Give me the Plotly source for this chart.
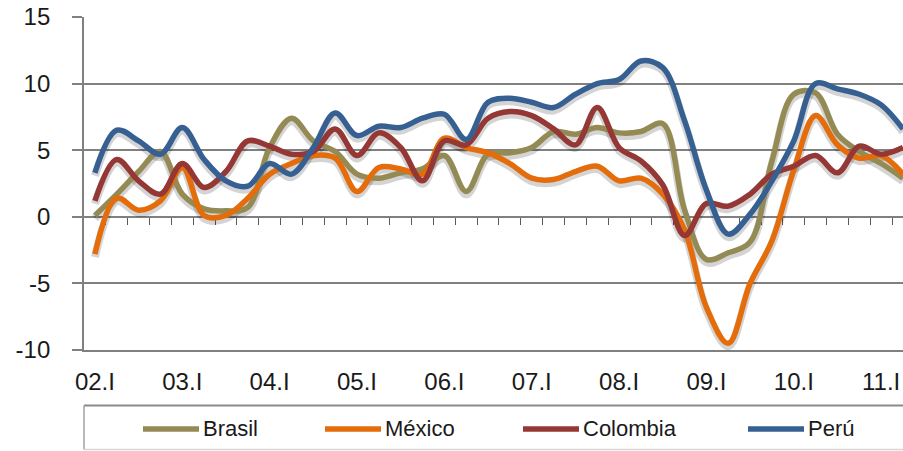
import plotly.graph_objects as go

# Quarterly series, 2002.I - 2011.II
quarters = [f"{y:02d}.{q}" for y in range(2, 12) for q in ("I", "II", "III", "IV")][:38]
tick_labels = ["02.I", "03.I", "04.I", "05.I", "06.I", "07.I", "08.I", "09.I", "10.I", "11.I"]

brasil = [0.1, 1.7, 3.4, 4.9, 1.7, 0.6, 0.45, 0.7, 5.2, 7.4, 5.7, 4.9, 3.2, 2.9, 3.3, 3.6,
          4.6, 1.9, 4.7, 4.8, 5.2, 6.4, 6.2, 6.7, 6.3, 6.4, 7.0, 0.5, -3.2, -2.7, -1.9, 4.2,
          9.2, 9.3, 6.2, 4.9, 4.0, 2.9]
mexico = [-2.8, 1.4, 0.5, 1.2, 3.7, 0.1, 0.1, 1.4, 3.2, 4.0, 4.6, 4.4, 1.9, 3.7, 3.6, 3.2,
          5.9, 5.2, 4.8, 4.0, 2.9, 2.8, 3.4, 3.8, 2.7, 2.9, 1.7, -1.0, -6.8, -9.5, -5.0, -1.8,
          3.5, 7.6, 5.4, 4.4, 4.6, 3.2]
colombia = [1.2, 4.3, 2.7, 1.7, 4.0, 2.2, 3.4, 5.7, 5.3, 4.7, 4.9, 6.6, 4.6, 6.3, 5.2, 2.7,
            5.7, 5.4, 7.4, 7.9, 7.6, 6.6, 5.4, 8.2, 5.2, 4.2, 2.4, -1.4, 1.0, 0.8, 1.7, 3.2,
            3.8, 4.6, 3.3, 5.3, 4.7, 5.2]
peru = [3.3, 6.5, 5.7, 4.7, 6.7, 4.3, 2.7, 2.3, 4.0, 3.2, 5.2, 7.8, 6.1, 6.8, 6.7, 7.4,
        7.7, 5.8, 8.6, 8.9, 8.6, 8.2, 9.2, 10.0, 10.3, 11.7, 11.2, 7.2, 2.0, -1.3, 0.2, 2.7,
        5.7, 10.0, 9.6, 9.2, 8.4, 6.6]

series = [
    ("Brasil", brasil, "#948A54"),
    ("México", mexico, "#E46C0A"),
    ("Colombia", colombia, "#953735"),
    ("Perú", peru, "#376092"),
]

# ---- page geometry (pixels) ----
W, H = 903, 451
ML, MR, MT, MB = 84, 0, 17, 91
PW, PH = W - ML - MR, H - MT - MB
PLOT_BOTTOM = 350            # pixel row of the -10 gridline
Y_MIN, Y_MAX = -10, 15
X_MIN, X_MAX = -0.5, 37.0
CAT_PX = PW / (X_MAX - X_MIN)
UNIT_PX = (PLOT_BOTTOM - MT) / (Y_MAX - Y_MIN)


def px_x(px):
    return (px - ML) / PW


def px_y(py):
    return (H - MB - py) / PH


FONT = "Liberation Sans, Arial, sans-serif"
GRID = "#808080"
x_idx = list(range(len(quarters)))

fig = go.Figure()

# empty traces so the frame axes and the zero-line tick axis are rendered
for xa in ("x", "x2"):
    fig.add_trace(go.Scatter(x=[None], y=[None], xaxis=xa, yaxis="y",
                             showlegend=False, hoverinfo="skip"))

# soft drop shadows, drawn on a subplot nudged right/down
SHX, SHY = 2, 3
for name, vals, color in series:
    fig.add_trace(go.Scatter(
        x=x_idx, y=vals, xaxis="x3", yaxis="y3", mode="lines",
        line=dict(color="rgba(0,0,0,0.17)", width=8, shape="spline", smoothing=1.0),
        showlegend=False, hoverinfo="skip"))

for name, vals, color in series:
    fig.add_trace(go.Scatter(
        x=x_idx, y=vals, xaxis="x4", yaxis="y4", mode="lines", name=name,
        text=quarters,
        line=dict(color=color, width=5.5, shape="spline", smoothing=1.0),
        showlegend=False))

y_dom = [px_y(PLOT_BOTTOM), 1.0]
tickvals_x = [quarters.index(t) for t in tick_labels]
y_ticks = list(range(Y_MIN, Y_MAX + 1, 5))

fig.update_layout(
    width=W, height=H,
    margin=dict(l=ML, r=MR, t=MT, b=MB),
    paper_bgcolor="white", plot_bgcolor="rgba(0,0,0,0)",
    font=dict(family=FONT, color="#1a1a1a"),
    showlegend=False,
    xaxis=dict(domain=[0, 1], range=[X_MIN, X_MAX], anchor="y",
               tickvals=tickvals_x, ticktext=tick_labels,
               tickfont=dict(size=24, family=FONT, color="#1a1a1a"),
               ticks="", ticklabelstandoff=9,
               showgrid=False, zeroline=False,
               showline=True, linecolor=GRID, linewidth=1.8),
    yaxis=dict(domain=y_dom, range=[Y_MIN, Y_MAX], anchor="x",
               tickvals=y_ticks, ticktext=[str(v) for v in y_ticks],
               tickfont=dict(size=24, family=FONT, color="#1a1a1a"),
               ticks="outside", ticklen=10, tickwidth=1.8, tickcolor=GRID,
               ticklabelstandoff=17,
               showgrid=True, gridcolor=GRID, gridwidth=1.8,
               zeroline=False,
               showline=True, linecolor=GRID, linewidth=1.8),
    # quarter boundary ticks hanging from the zero line
    xaxis2=dict(overlaying="x", anchor="free",
                position=px_y(MT + (Y_MAX - 0) * UNIT_PX),
                side="bottom", range=[X_MIN, X_MAX],
                tickvals=[k - 0.5 for k in range(1, len(quarters))],
                ticks="outside", ticklen=7, tickwidth=1.4, tickcolor="#5a5a5a",
                showticklabels=False, showgrid=False, zeroline=False, showline=False),
    xaxis3=dict(domain=[px_x(ML + SHX), 1.0],
                range=[X_MIN + SHX / CAT_PX, X_MAX], anchor="y3", visible=False),
    yaxis3=dict(domain=[px_y(PLOT_BOTTOM + SHY), px_y(MT + SHY)],
                range=[Y_MIN, Y_MAX], anchor="x3", visible=False),
    xaxis4=dict(domain=[0, 1], range=[X_MIN, X_MAX], anchor="y4", visible=False),
    yaxis4=dict(domain=y_dom, range=[Y_MIN, Y_MAX], anchor="x4", visible=False),
)

# ---- legend box along the bottom ----
LEG_TOP, LEG_BOT, LEG_ROW = 405.5, 449.5, 429
shapes = [
    dict(type="line", xref="paper", yref="paper", x0=px_x(ML), x1=px_x(W),
         y0=px_y(LEG_TOP), y1=px_y(LEG_TOP), line=dict(color="#8a8a8a", width=2.2)),
    dict(type="line", xref="paper", yref="paper", x0=px_x(ML), x1=px_x(ML),
         y0=px_y(LEG_TOP), y1=px_y(LEG_BOT), line=dict(color="#9a9a9a", width=1.4)),
    dict(type="line", xref="paper", yref="paper", x0=px_x(ML), x1=px_x(W),
         y0=px_y(LEG_BOT), y1=px_y(LEG_BOT), line=dict(color="#d6d6d6", width=1.4)),
]
annotations = []
legend_starts = [143, 325, 523, 748]
for (name, vals, color), x0 in zip(series, legend_starts):
    shapes.append(dict(type="line", xref="paper", yref="paper",
                       x0=px_x(x0), x1=px_x(x0 + 56),
                       y0=px_y(LEG_ROW), y1=px_y(LEG_ROW),
                       line=dict(color=color, width=5.5)))
    annotations.append(dict(xref="paper", yref="paper", x=px_x(x0 + 58), y=px_y(LEG_ROW),
                            text=name, showarrow=False, xanchor="left", yanchor="middle",
                            font=dict(size=22, family=FONT, color="#1a1a1a")))

fig.update_layout(shapes=shapes, annotations=annotations)

fig.write_html("out.html")
